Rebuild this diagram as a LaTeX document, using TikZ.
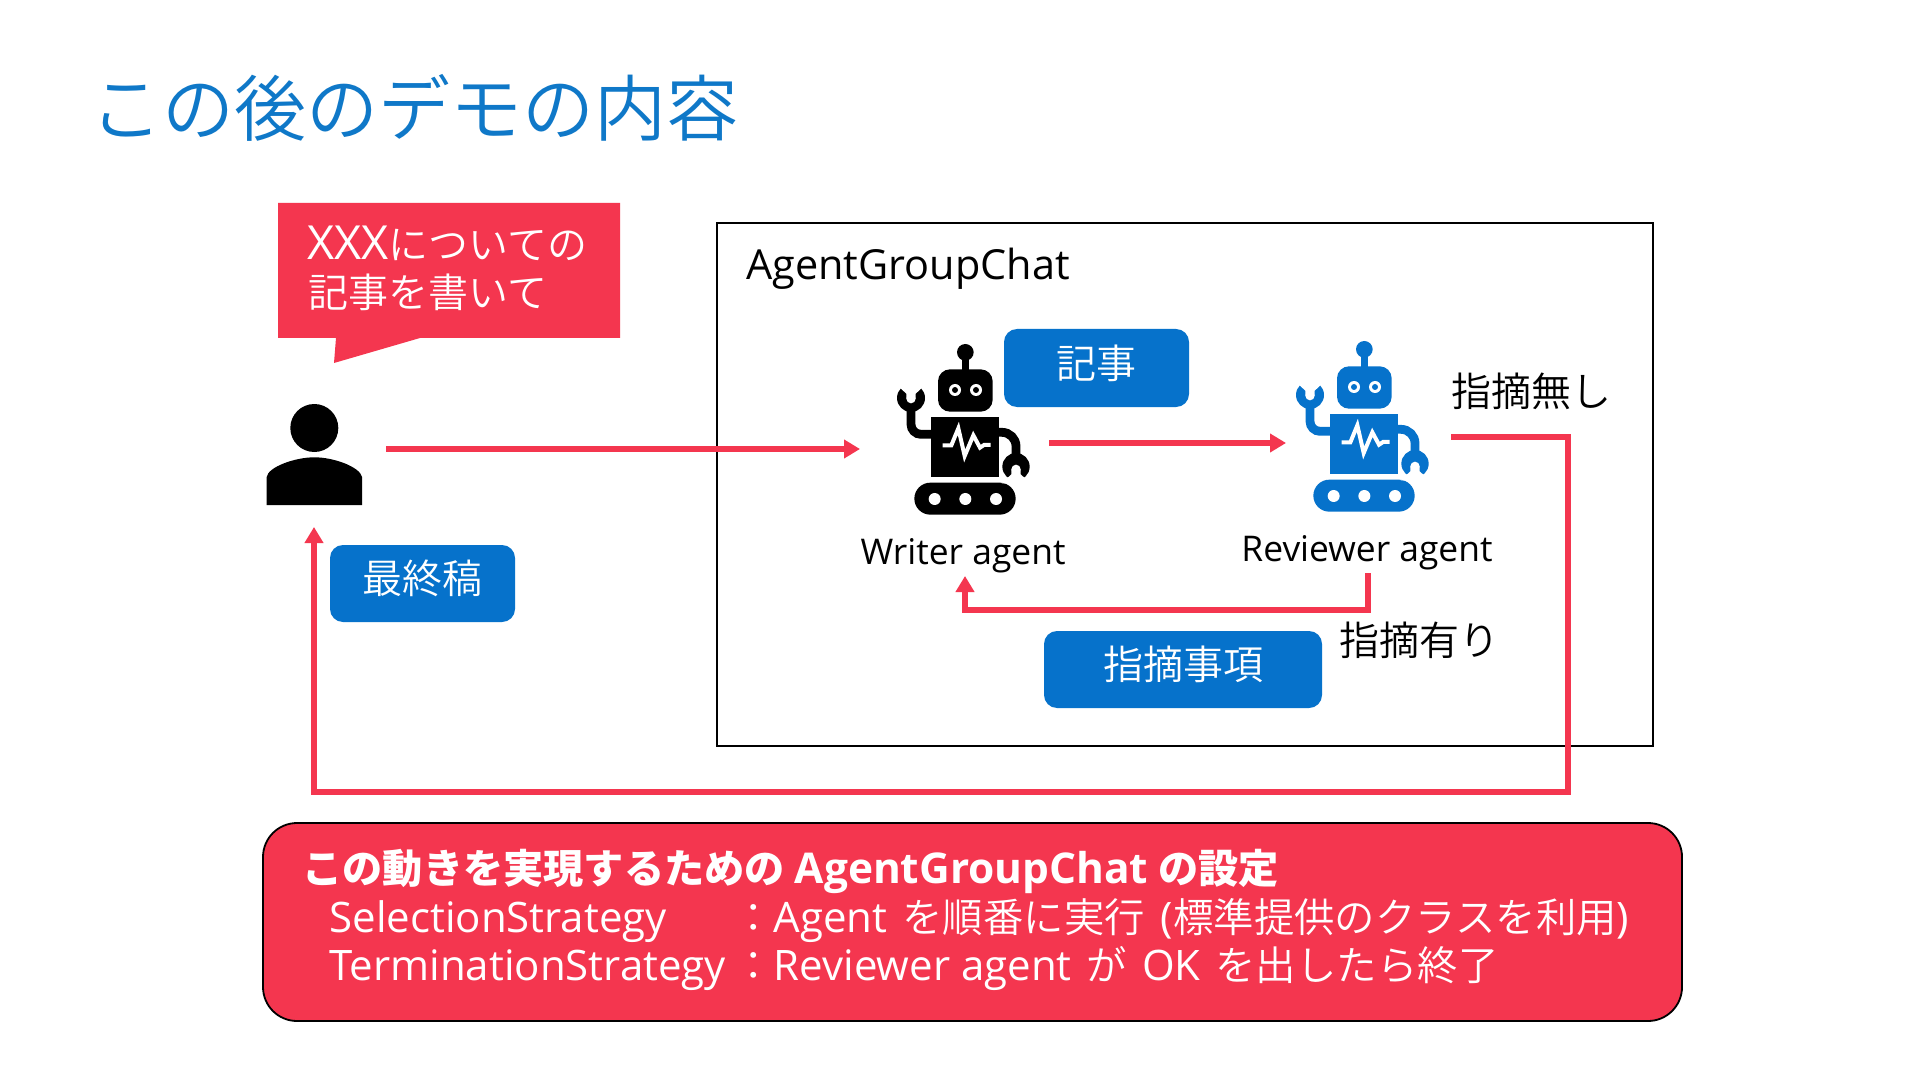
\documentclass[tikz,border=0pt]{standalone}
\usepackage{fontspec}
\setmainfont{Noto Sans CJK JP}
\newfontfamily\lf{Open Sans}
\newfontfamily\lfb{Open Sans}[BoldFont={Open Sans Bold}]
\newfontfamily\jl{Noto Sans CJK JP DemiLight}
\newcommand{\LL}[1]{{\lf\fontsize{21}{24}\selectfont #1}}
\newcommand{\SP}{\hspace{7.5pt}}
\usetikzlibrary{arrows.meta}
\definecolor{redc}{HTML}{F4364F}
\definecolor{bluec}{HTML}{0672CB}
\definecolor{titlec}{HTML}{0F78C8}
\tikzset{
  flow/.style={draw=redc,line width=2.8pt,-{Triangle[length=8pt,width=9pt]}},
  tagbox/.style={fill=bluec,rounded corners=6.5pt,inner sep=0pt},
  tagtxt/.style={text=white,font=\jl\fontsize{20}{24}\selectfont,inner sep=0pt},
  lbl/.style={font=\jl\fontsize{20}{24}\selectfont,text=black,inner sep=0pt},
  lat/.style={font=\lf\fontsize{20.7}{24}\selectfont,text=black,inner sep=0pt},
  agentl/.style={font=\lf\fontsize{17.7}{20}\selectfont,text=black,inner sep=0pt},
  bot/.style={font=\jl\fontsize{20.2}{24}\selectfont,text=white,inner sep=0pt,anchor=base west},
}
\newcommand{\robotfig}[3]{%
\begin{scope}[shift={(#2,#3)},scale=1/3]
  \fill[#1] (316,97) circle (25);
  \fill[#1] (305,100) rectangle (327,150);
  \fill[#1,rounded corners=6pt] (234,148) rectangle (398,275);
  \fill[white] (285,210) circle (18); \fill[#1] (285,210) circle (9);
  \fill[white] (348,210) circle (18); \fill[#1] (348,210) circle (9);
  \fill[#1] (214,292) rectangle (418,470);
  \fill[#1,rounded corners=8pt] (163,488) rectangle (467,584);
  \foreach \wx in {224,316,408}{\fill[white] (\wx,537) circle (18);}
  \draw[#1,line width=4.4pt,rounded corners=5pt] (153,240) -- (153,343) -- (220,343);
  \draw[#1,line width=4.4pt,rounded corners=7pt] (410,337) -- (468,337) -- (468,430);
  \fill[#1] (153,234) circle (42);
  \fill[white] (139,236) -- (139,221) -- (100,185) -- (206,185) -- (167,221) -- (167,236) -- cycle;
  \fill[white] (153,236) circle (14);
  \fill[#1] (468,440) circle (41);
  \fill[white] (454,448) -- (454,463) -- (425,490) -- (511,490) -- (482,463) -- (482,448) -- cycle;
  \fill[white] (468,448) circle (14);
  \draw[white,line width=2pt,line join=miter] (248,376) -- (274,376) -- (295,325) -- (314,408) -- (340,346) -- (360,383) -- (372,375) -- (392,375);
\end{scope}}
\begin{document}
\begin{tikzpicture}[x=0.5pt,y=-0.5pt]
\useasboundingbox (0,0) rectangle (1920,1080);
\fill[white] (0,0) rectangle (1920,1080);

\node[anchor=west,inner sep=0pt,text=titlec,font=\jl\fontsize{36}{40}\selectfont] (title) at (90,108) {この後のデモの内容};

% callout
\fill[redc] (278,203) -- (620,203) -- (620,338) -- (420,338) -- (334,363) -- (336,338) -- (278,338) -- cycle;
\node[anchor=base west,inner sep=0pt,text=white,font=\jl\fontsize{20}{24}\selectfont] (say1) at (307,260) {{\lf\fontsize{23.5}{24}\selectfont XXX}についての};
\node[anchor=base west,inner sep=0pt,text=white,font=\jl\fontsize{20}{24}\selectfont] (say2) at (308,307) {記事を書いて};

% person
\fill[black] (314.3,428) circle (24);
\fill[black] (266.7,505) -- (266.7,477) .. controls (268,467) and (295,457.3) .. (314.3,457.3) .. controls (334,457.3) and (360,467) .. (362,477) -- (362,505) -- cycle;

% main box
\node[draw=black,line width=0.9pt,minimum width=468pt,minimum height=261.5pt,inner sep=0pt] (chat) at (1185,484.5) {};
\node[lat,anchor=base west] (chatlbl) at (746,280) {AgentGroupChat};

\robotfig{black}{860}{320}
\robotfig{bluec}{1259}{317}

\node[agentl] (writerlbl) at (963,556) {Writer agent};
\node[agentl] (reviewerlbl) at (1367,553) {Reviewer agent};

\node[tagbox,minimum width=92.5pt,minimum height=39pt] (kiji) at (1096.5,368) {};
\node[tagtxt] at (1096.5,363) {記事};
\node[tagbox,minimum width=92.5pt,minimum height=38.5pt] (final) at (422.5,583.5) {};
\node[tagtxt] at (422.5,578.5) {最終稿};
\node[tagbox,minimum width=139pt,minimum height=38.5pt] (notes) at (1183,669.5) {};
\node[tagtxt] at (1183,664.5) {指摘事項};

\node[lbl,anchor=west] (nonote) at (1451,391) {指摘無し};
\node[lbl,anchor=west] (hasnote) at (1339,640) {指摘有り};

% anchors
\coordinate (u1) at (386,449);
\coordinate (w1) at (860,449);
\coordinate (w2) at (1049,443);
\coordinate (r1) at (1286,443);
\coordinate (r2) at (1451,437);
\coordinate (c1) at (1568,437);
\coordinate (c2) at (1568,792);
\coordinate (c3) at (314,792);
\coordinate (u2) at (314,527);
\coordinate (r3) at (1368,573);
\coordinate (f1) at (1368,610);
\coordinate (f2) at (965,610);
\coordinate (w3) at (965,576);

\draw[flow] (u1) -- (w1);
\draw[flow] (w2) -- (r1);
\draw[flow,line join=miter] (r2) -- (c1) -- (c2) -- (c3) -- (u2);
\draw[flow,line join=miter] (r3) -- (f1) -- (f2) -- (w3);

% bottom panel
\node[draw=black,line width=0.9pt,fill=redc,rounded corners=17pt,minimum width=709.5pt,minimum height=99pt,inner sep=0pt] (panel) at (972.5,922) {};
\node[bot,font=\fontsize{20.1}{24}\selectfont] (p1) at (302,883) {\bfseries この動きを実現するための\hspace{5pt}{\lfb\bfseries\fontsize{21.2}{24}\selectfont AgentGroupChat}\hspace{5pt}の設定};
\node[bot] (p2a) at (329,932) {\LL{SelectionStrategy}};
\node[bot] (p2b) at (733,932) {：\LL{Agent}\SP を順番に実行\hspace{8pt}\LL{(}標準提供のクラスを利用\LL{)}};
\node[bot] (p3a) at (329,980) {\LL{TerminationStrategy}};
\node[bot] (p3b) at (733,980) {：\LL{Reviewer agent}\SP が\SP\LL{OK}\SP を出したら終了};
\end{tikzpicture}
\end{document}
